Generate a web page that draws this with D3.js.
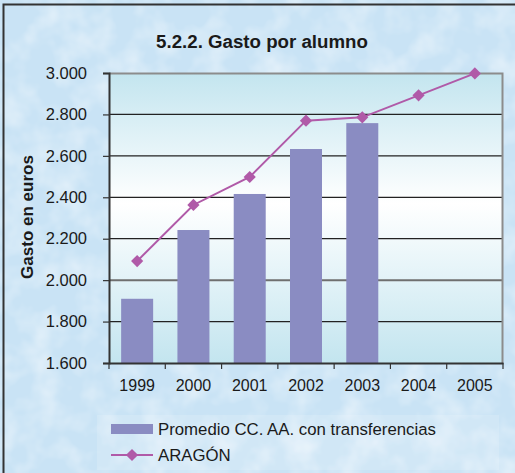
<!DOCTYPE html>
<html>
<head>
<meta charset="UTF-8">
<title>5.2.2. Gasto por alumno</title>
<style>
    body { margin: 0; background: #fff; }
    svg { display: block; font-family: "Liberation Sans", Arial, sans-serif; }
    .axis text { fill: #1a1a1a; }
</style>
</head>
<body>
<script src="https://cdn.jsdelivr.net/npm/d3@7"></script>
<script>
    var years = ["1999", "2000", "2001", "2002", "2003", "2004", "2005"];
    var promedio = [1910, 2242, 2416, 2633, 2758, null, null];
    var aragon = [2092, 2363, 2498, 2770, 2786, 2892, 2998];
    var yTicks = [1600, 1800, 2000, 2200, 2400, 2600, 2800, 3000];

    var W = 515, H = 473;
    var margin = {top: 73, right: 12, bottom: 110, left: 109},
        width = 503 - margin.left,
        height = 363 - margin.top;

    var fmt = function(v) { return d3.format(",.3f")(v / 1000).replace(",", ""); };

    var svg = d3.select("body").append("svg")
        .attr("width", W)
        .attr("height", H);

    var defs = svg.append("defs");

    // mottled background texture
    var f = defs.append("filter").attr("id", "mottle")
        .attr("x", 0).attr("y", 0).attr("width", "100%").attr("height", "100%");
    f.append("feTurbulence").attr("type", "fractalNoise")
        .attr("baseFrequency", "0.035").attr("numOctaves", 3).attr("seed", 4);
    f.append("feColorMatrix").attr("type", "matrix")
        .attr("values", "0 0 0 0 1  0 0 0 0 1  0 0 0 0 1  0 0 0 0.9 -0.35");

    var grad = defs.append("linearGradient")
        .attr("id", "plot-bg")
        .attr("x1", 0).attr("y1", 0).attr("x2", 0).attr("y2", 1);
    grad.selectAll("stop")
        .data([
            {offset: "0%", color: "#c3e5ef"},
            {offset: "45%", color: "#ffffff"},
            {offset: "100%", color: "#c3e5ef"}
        ])
        .enter().append("stop")
        .attr("offset", (d) => d.offset)
        .attr("stop-color", (d) => d.color);

    svg.append("rect").attr("width", W).attr("height", H).attr("fill", "#c9e3f5");
    svg.append("rect").attr("width", W).attr("height", H).attr("filter", "url(#mottle)");

    // outer frame (top and left edges visible)
    svg.append("path")
        .attr("d", "M3.5," + H + "V4.5H" + W)
        .attr("fill", "none").attr("stroke", "#333").attr("stroke-width", 2);

    // legend panel
    svg.append("rect")
        .attr("x", 97).attr("y", 415).attr("width", 402).attr("height", 55)
        .attr("fill", "#ffffff").attr("fill-opacity", 0.15);

    var g = svg.append("g")
        .attr("transform", `translate(${margin.left},${margin.top})`);

    var x = d3.scaleBand().domain(years).range([0, width]);
    var y = d3.scaleLinear().domain([1600, 3000]).range([height, 0]);

    g.append("rect")
        .attr("width", width).attr("height", height)
        .attr("fill", "url(#plot-bg)");

    g.append("g")
        .attr("class", "grid")
        .selectAll("line")
        .data(yTicks.slice(1, -1))
        .enter().append("line")
        .attr("x1", 0).attr("x2", width)
        .attr("y1", (d) => y(d)).attr("y2", (d) => y(d))
        .attr("stroke", (d) => d === 2000 ? "#6f6f6f" : "#222")
        .attr("stroke-width", (d) => d === 2000 ? 2 : 1.2);

    // plot frame top/right
    g.append("path")
        .attr("d", `M0,0.5H${width - 0.5}V${height}`)
        .attr("fill", "none").attr("stroke", "#8c8c8c").attr("stroke-width", 2);

    var barW = 32;
    g.selectAll(".bar")
        .data(years.map((yr, i) => ({year: yr, v: promedio[i]})).filter((d) => d.v != null))
        .enter().append("rect")
        .attr("class", "bar")
        .attr("x", (d) => x(d.year) + (x.bandwidth() - barW) / 2)
        .attr("width", barW)
        .attr("y", (d) => y(d.v))
        .attr("height", (d) => height - y(d.v))
        .attr("fill", "#8a8cc2");

    var line = d3.line()
        .x((d, i) => x(years[i]) + x.bandwidth() / 2)
        .y((d) => y(d));

    g.append("path")
        .datum(aragon)
        .attr("d", line)
        .attr("fill", "none")
        .attr("stroke", "#b05aa8")
        .attr("stroke-width", 2);

    var diamond = d3.symbol().type(d3.symbolDiamond2).size(95);
    g.selectAll(".pt")
        .data(aragon)
        .enter().append("path")
        .attr("class", "pt")
        .attr("transform", (d, i) => `translate(${x(years[i]) + x.bandwidth() / 2},${y(d)})`)
        .attr("d", diamond)
        .attr("fill", "#b05aa8");

    var yAxis = d3.axisLeft(y).tickValues(yTicks).tickFormat(fmt).tickSize(6).tickPadding(16);
    var ya = g.append("g").attr("class", "axis").call(yAxis);
    ya.attr("font-size", 16.5).attr("font-family", null);
    ya.select(".domain").attr("stroke", "#333").attr("stroke-width", 2);
    ya.selectAll(".tick line").attr("stroke", "#333").attr("stroke-width", 1.2);

    var xAxis = d3.axisBottom(x).tickSize(0).tickPadding(17);
    var xa = g.append("g").attr("class", "axis")
        .attr("transform", `translate(0,${height})`)
        .call(xAxis);
    xa.attr("font-size", 16).attr("font-family", null);
    xa.select(".domain").attr("stroke", "#333").attr("stroke-width", 2);
    xa.selectAll(".sep")
        .data(years.concat(["end"]))
        .enter().append("line")
        .attr("class", "sep")
        .attr("x1", (d, i) => i * x.step()).attr("x2", (d, i) => i * x.step())
        .attr("y1", 0).attr("y2", 6)
        .attr("stroke", "#333").attr("stroke-width", 1.2);

    // y axis title
    svg.append("text")
        .attr("transform", "translate(33,217) rotate(-90)")
        .attr("text-anchor", "middle")
        .attr("font-size", "17px")
        .attr("font-weight", "bold")
        .attr("fill", "#1a1a1a")
        .text("Gasto en euros");

    // chart title
    svg.append("text")
        .attr("x", 262).attr("y", 48)
        .attr("text-anchor", "middle")
        .attr("font-size", "18.7px")
        .attr("font-weight", "bold")
        .attr("fill", "#1a1a1a")
        .text("5.2.2. Gasto por alumno");

    // legend
    var lg = svg.append("g");
    lg.append("rect")
        .attr("x", 111).attr("y", 424).attr("width", 42).attr("height", 10)
        .attr("fill", "#8a8cc2");
    lg.append("text")
        .attr("x", 158).attr("y", 435)
        .attr("font-size", "16.8px").attr("fill", "#1a1a1a")
        .text("Promedio CC. AA. con transferencias");
    lg.append("line")
        .attr("x1", 111).attr("x2", 153).attr("y1", 455).attr("y2", 455)
        .attr("stroke", "#b05aa8").attr("stroke-width", 2);
    lg.append("path")
        .attr("transform", "translate(132,455)")
        .attr("d", diamond)
        .attr("fill", "#b05aa8");
    lg.append("text")
        .attr("x", 158).attr("y", 461)
        .attr("font-size", "16.8px").attr("fill", "#1a1a1a")
        .text("ARAGÓN");
</script>
</body>
</html>
